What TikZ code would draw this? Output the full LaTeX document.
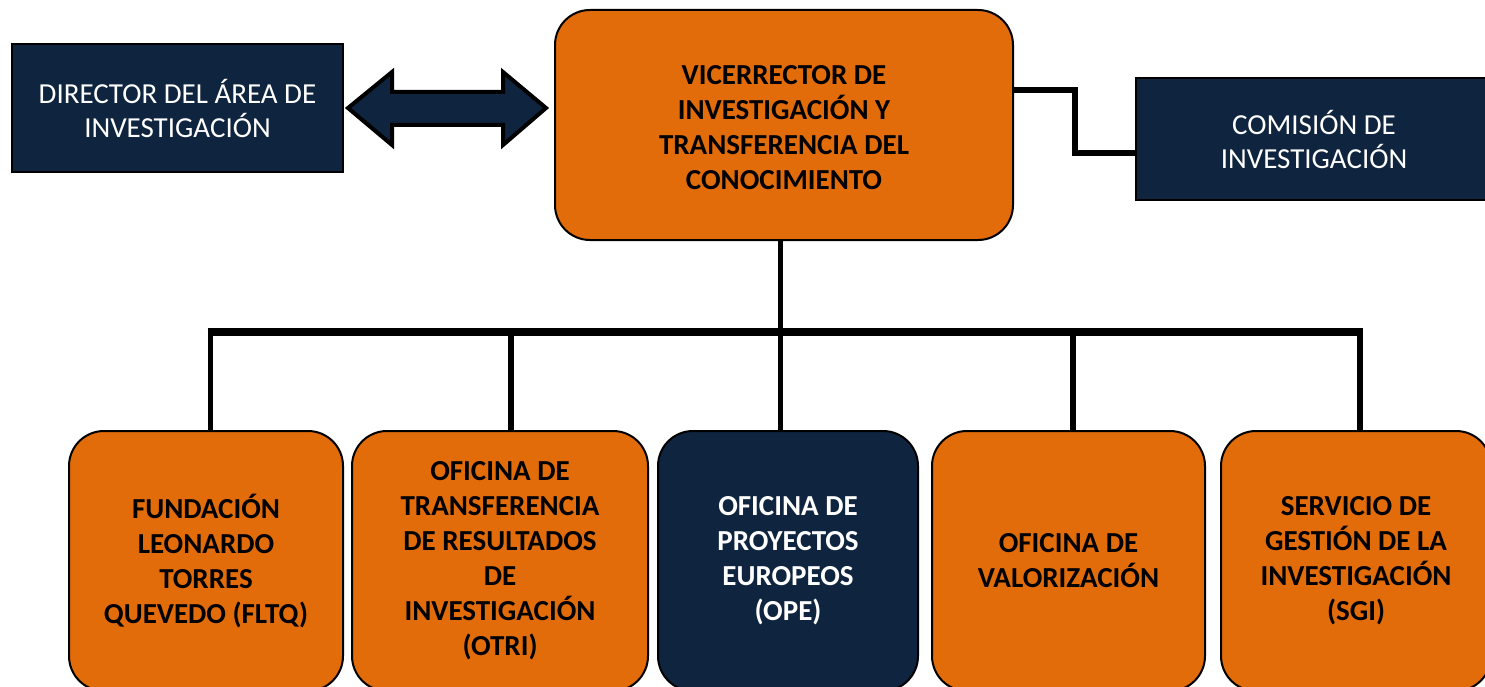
\documentclass[tikz,border=0pt]{standalone}
\usepackage{fontspec}
\setmainfont{Carlito}
\definecolor{orgC}{HTML}{E36C0A}
\definecolor{navyC}{HTML}{0F243E}
\begin{document}
\begin{tikzpicture}[x=1pt,y=-1pt,
  txt/.style={font=\fontsize{29}{35}\selectfont, align=center, inner sep=0pt},
  obox/.style={txt, draw=black, line width=2pt, fill=orgC, rounded corners=35pt, font=\fontsize{29}{35}\selectfont\bfseries},
  nrect/.style={txt, draw=black, line width=1.5pt, fill=navyC, text=white},
  nbox/.style={obox, fill=navyC, text=white},
  conn/.style={draw=black, line width=5.7pt, line join=miter, line cap=butt},
  bus/.style={draw=black, line width=8pt, line cap=butt}
]
\useasboundingbox (0,0) rectangle (1485,687);
\clip (0,0) rectangle (1485,687);

% top row
\node[nrect, minimum width=331pt, minimum height=128pt] (dir) at (177.5,108) {DIRECTOR DEL ÁREA DE\\[-1pt]INVESTIGACIÓN};
\node[obox, minimum width=458pt, minimum height=230pt] (vice) at (784,125) {};
\node[txt, font=\fontsize{29}{35}\selectfont\bfseries] (vicet) at (784,128) {VICERRECTOR DE\\INVESTIGACIÓN Y\\TRANSFERENCIA DEL\\CONOCIMIENTO};
\node[nrect, minimum width=356pt, minimum height=122pt] (com) at (1314,139) {COMISIÓN DE\\[-1pt]INVESTIGACIÓN};

% bottom row
\node[obox, minimum width=274pt, minimum height=260pt] (b1) at (206,561) {FUNDACIÓN\\LEONARDO\\TORRES\\QUEVEDO (FLTQ)};
\node[obox, minimum width=296pt, minimum height=260pt] (b2) at (500,561) {OFICINA DE\\TRANSFERENCIA\\DE RESULTADOS\\DE\\INVESTIGACIÓN\\(OTRI)};
\node[nbox, minimum width=260pt, minimum height=260pt] (b3) at (788,561) {OFICINA DE\\PROYECTOS\\EUROPEOS\\(OPE)};
\node[obox, minimum width=273pt, minimum height=260pt] (b4) at (1068.5,561) {OFICINA DE\\VALORIZACIÓN};
\node[obox, minimum width=270pt, minimum height=260pt] (b5) at (1356,561) {SERVICIO DE\\GESTIÓN DE LA\\INVESTIGACIÓN\\(SGI)};

% double block arrow
\draw[line width=4pt, line join=miter, fill=navyC]
  (348,108) -- (392,72) -- (392,92) -- (503,92) -- (503,72) -- (546,108)
  -- (503,145) -- (503,125) -- (392,125) -- (392,145) -- cycle;

% right connector
\coordinate (c1) at (1075,90);
\coordinate (c2) at (1075,153);
\draw[conn] (vice.east |- c1) -- (c1) -- (c2) -- (c2 -| com.west);

% tree
\coordinate (top) at (780.5,0);
\coordinate (busL) at (207.5,332);
\coordinate (busR) at (1363,332);
\coordinate (d1) at (210.5,332);
\coordinate (d2) at (511,332);
\coordinate (d3) at (780.5,332);
\coordinate (d4) at (1073,332);
\coordinate (d5) at (1360,332);
\draw[conn] (top |- vice.south) -- (d3);
\draw[conn] (d1) -- (d1 |- b1.north);
\draw[conn] (d2) -- (d2 |- b2.north);
\draw[conn] (d3) -- (d3 |- b3.north);
\draw[conn] (d4) -- (d4 |- b4.north);
\draw[conn] (d5) -- (d5 |- b5.north);
\draw[bus] (busL) -- (busR);
\end{tikzpicture}
\end{document}
